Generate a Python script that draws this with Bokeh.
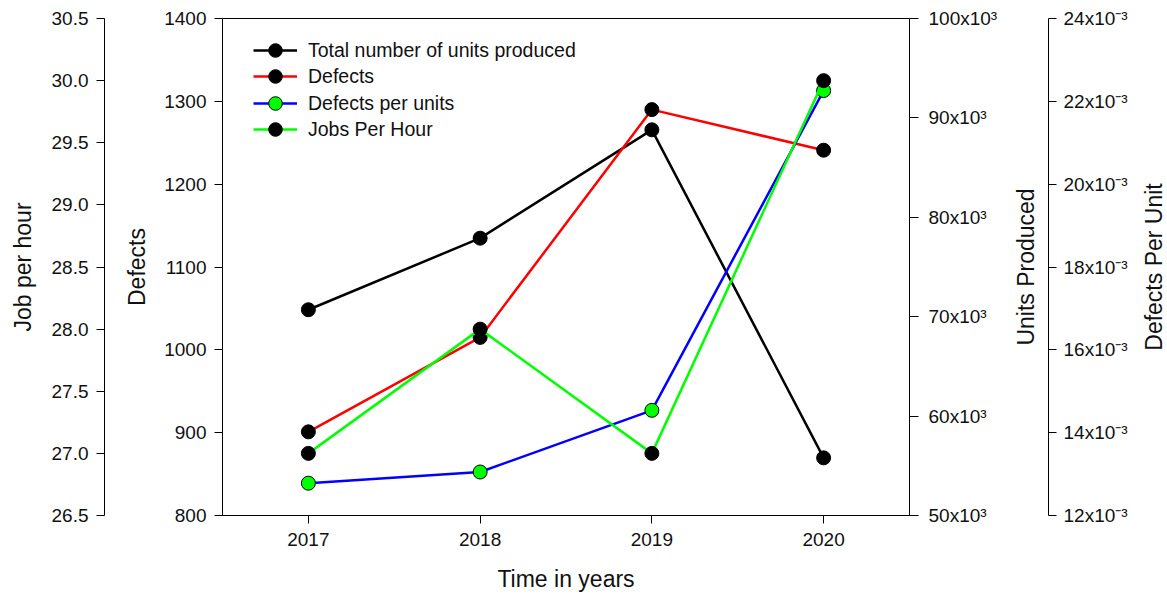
from bokeh.plotting import figure
from bokeh.layouts import row
from bokeh.models import (Range1d, LinearAxis, FixedTicker, Legend, LegendItem,
                          PrintfTickFormatter)
from bokeh.embed import file_html
from bokeh.resources import INLINE

# ---- data ----
years = [2017, 2018, 2019, 2020]
units_produced = [70700, 77900, 88800, 55800]
defects = [901, 1015, 1290, 1241]
defects_per_unit = [0.01278, 0.01305, 0.01454, 0.02226]
jobs_per_hour = [27.0, 28.0, 27.0, 30.0]

series_names = ["Total number of units produced", "Defects", "Defects per units", "Jobs Per Hour"]

year_ticks = [2017, 2018, 2019, 2020]
defects_ticks = [800, 900, 1000, 1100, 1200, 1300, 1400]
jph_ticks = [26.5, 27.0, 27.5, 28.0, 28.5, 29.0, 29.5, 30.0, 30.5]
units_ticks = [50000, 60000, 70000, 80000, 90000, 100000]
units_tick_labels = ["50x10³", "60x10³", "70x10³", "80x10³", "90x10³", "100x10³"]
dpu_ticks = [0.012, 0.014, 0.016, 0.018, 0.020, 0.022, 0.024]
dpu_tick_labels = ["12x10⁻³", "14x10⁻³", "16x10⁻³", "18x10⁻³", "20x10⁻³", "22x10⁻³", "24x10⁻³"]

FONT = "Liberation Sans"
TICK_FS = "19px"
LABEL_FS = "23px"

TOP, BOTTOM = 18, 81          # borders above / below the plotting frame
H = 596


def style(ax, tick_out=8, standoff=8):
    ax.major_tick_in = 0
    ax.major_tick_out = tick_out
    ax.minor_tick_line_color = None
    ax.axis_line_color = "black"
    ax.major_tick_line_color = "black"
    ax.major_label_text_font = FONT
    ax.major_label_text_font_size = TICK_FS
    ax.major_label_text_color = "#111111"
    ax.axis_label_text_font = FONT
    ax.axis_label_text_font_size = LABEL_FS
    ax.axis_label_text_font_style = "normal"
    ax.axis_label_text_color = "#111111"
    ax.major_label_standoff = standoff


def spacer(range_name, tick_value, width):
    ax = LinearAxis(y_range_name=range_name, ticker=FixedTicker(ticks=[tick_value]),
                    axis_line_color=None, major_tick_line_color=None, minor_tick_line_color=None,
                    major_tick_in=0, major_tick_out=width, major_label_standoff=0,
                    major_label_text_font_size="1px")
    ax.major_label_overrides = {tick_value: ""}
    return ax


def title_only(ax, text, standoff):
    # an axis that shows only its (bottom-to-top) title
    ax.ticker = FixedTicker(ticks=[])
    ax.axis_line_color = None
    ax.major_tick_line_color = None
    ax.minor_tick_line_color = None
    ax.major_tick_in = 0
    ax.major_tick_out = 0
    ax.major_label_standoff = 0
    ax.axis_label = text
    ax.axis_label_standoff = standoff
    ax.axis_label_text_font = FONT
    ax.axis_label_text_font_size = LABEL_FS
    ax.axis_label_text_font_style = "normal"
    ax.axis_label_text_color = "#111111"


# ================= main plot =================
p = figure(width=1000, height=H, output_backend="svg", toolbar_location=None,
           x_range=Range1d(2016.5, 2020.5), y_range=Range1d(800, 1400),
           min_border_left=222, min_border_right=90, min_border_top=TOP, min_border_bottom=BOTTOM)
p.extra_y_ranges = {"units": Range1d(50000, 100000), "dpu": Range1d(0.012, 0.024),
                    "jph": Range1d(26.5, 30.5)}
p.xgrid.visible = False
p.ygrid.visible = False
p.outline_line_color = "black"
p.outline_line_width = 1
p.background_fill_color = "white"
p.border_fill_color = "white"

xa = p.xaxis[0]
style(xa, standoff=9)
xa.ticker = FixedTicker(ticks=year_ticks)
xa.axis_label = "Time in years"
xa.axis_label_standoff = 17

da = p.yaxis[0]
style(da)
da.ticker = FixedTicker(ticks=defects_ticks)
da.axis_label = "Defects"
da.axis_label_standoff = 11

p.add_layout(spacer("jph", 28.5, 17), "left")

ja = LinearAxis(y_range_name="jph", ticker=FixedTicker(ticks=jph_ticks),
                formatter=PrintfTickFormatter(format="%.1f"), axis_label="Job per hour")
style(ja)
ja.axis_label_standoff = 13
p.add_layout(ja, "left")

ua = LinearAxis(y_range_name="units", ticker=FixedTicker(ticks=units_ticks))
style(ua, tick_out=9, standoff=10)
ua.major_label_overrides = dict(zip(units_ticks, units_tick_labels))
p.add_layout(ua, "right")

LW = 2.5
MS = 14

l1 = p.line(years, units_produced, y_range_name="units", line_color="black", line_width=LW)
m1 = p.scatter(years, units_produced, y_range_name="units", size=MS, fill_color="black", line_color="black")

l2 = p.line(years, defects, line_color="#ff0000", line_width=LW)
m2 = p.scatter(years, defects, size=MS, fill_color="black", line_color="black")

l3 = p.line(years, defects_per_unit, y_range_name="dpu", line_color="#0000ff", line_width=LW)
m3 = p.scatter(years, defects_per_unit, y_range_name="dpu", size=MS, fill_color="#00ff00", line_color="black")

l4 = p.line(years, jobs_per_hour, y_range_name="jph", line_color="#00ff00", line_width=LW)
m4 = p.scatter(years, jobs_per_hour, y_range_name="jph", size=MS, fill_color="black", line_color="black")

GLYPH_H = 34
row_centers = [50, 76, 103, 129]
frame_bottom = H - BOTTOM
for name, rs, cy in zip(series_names, [[l1, m1], [l2, m2], [l3, m3], [l4, m4]], row_centers):
    lg = Legend(items=[LegendItem(label=name, renderers=rs)],
                location=(31, frame_bottom - (cy + GLYPH_H / 2)), padding=0, margin=0, spacing=0,
                glyph_width=44, glyph_height=GLYPH_H, label_standoff=11,
                label_text_font=FONT, label_text_font_size="19.5px", label_text_color="#111111",
                border_line_color=None, background_fill_alpha=0)
    p.add_layout(lg, "center")


def side_fig(width, left, right, y_range):
    f = figure(width=width, height=H, output_backend="svg", toolbar_location=None,
               x_range=Range1d(0, 1), y_range=y_range,
               min_border_left=left, min_border_right=right,
               min_border_top=TOP, min_border_bottom=BOTTOM)
    f.xaxis.visible = False
    f.xgrid.visible = False
    f.ygrid.visible = False
    f.outline_line_color = None
    f.background_fill_color = "white"
    f.border_fill_color = "white"
    return f


# ============ "Units Produced" title + Defects-per-unit axis ============
p2 = side_fig(135, 40, 87, Range1d(0.012, 0.024))
title_only(p2.yaxis[0], "Units Produced", 2)
pa = LinearAxis(ticker=FixedTicker(ticks=dpu_ticks))
style(pa, standoff=7)
pa.major_label_overrides = dict(zip(dpu_ticks, dpu_tick_labels))
p2.add_layout(pa, "right")

# ============ "Defects Per Unit" title ============
p3 = side_fig(32, 31, 0, Range1d(0.012, 0.024))
title_only(p3.yaxis[0], "Defects Per Unit", 0)

layout = row(p, p2, p3, spacing=0)
open("out.html", "w").write(file_html(layout, INLINE))
